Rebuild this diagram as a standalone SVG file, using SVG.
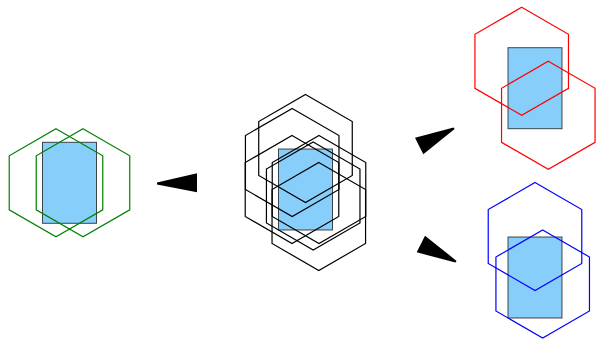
<svg xmlns="http://www.w3.org/2000/svg" xmlns:xlink="http://www.w3.org/1999/xlink" width="596" height="339" viewBox="0 0 596 339">
<style>
.box{fill:#87cefa;stroke:#000;stroke-opacity:0.7;stroke-width:1}
.hex{fill:none;stroke-width:1.2}
.g{stroke:#008000}
.k{stroke:#000}
.r{stroke:#ff0000}
.b{stroke:#0000ff}
.wedge{fill:#000;stroke:none}
</style>
<defs>
<path id="hx" d="M0,-54 L46.77,-27 L46.77,27 L0,54 L-46.77,27 L-46.77,-27 Z"/>
<rect id="bx" x="-27" y="-40.5" width="54" height="81"/>
</defs>
<rect width="596" height="339" fill="#fff"/>
<g id="connectors">
<polygon class="wedge" points="157,182.6 197,173.3 197,192.3 157,184.4"/>
<polygon class="wedge" points="415,137.7 423.3,154.3 454.6,129 453.6,127.4"/>
<polygon class="wedge" points="425,235.7 416.7,252.3 455.4,262.6 456.6,260.9"/>
</g>
<g id="node-green">
<use xlink:href="#bx" class="box" x="69.5" y="182.8"/>
<use xlink:href="#hx" class="hex g" x="56" y="182.8"/>
<use xlink:href="#hx" class="hex g" x="83" y="182.8"/>
</g>
<g id="node-center">
<use xlink:href="#bx" class="box" x="305.5" y="189.5"/>
<use xlink:href="#hx" class="hex k" x="292" y="189.5"/>
<use xlink:href="#hx" class="hex k" x="319" y="189.5"/>
<use xlink:href="#hx" class="hex k" x="292.2" y="162.5"/>
<use xlink:href="#hx" class="hex k" x="318.8" y="216.5"/>
<use xlink:href="#hx" class="hex k" x="305.5" y="148.5"/>
<use xlink:href="#hx" class="hex k" x="313.2" y="196"/>
</g>
<g id="node-red">
<use xlink:href="#bx" class="box" x="535" y="88.2"/>
<use xlink:href="#hx" class="hex r" x="521.7" y="61.3"/>
<use xlink:href="#hx" class="hex r" x="548.3" y="115.3"/>
</g>
<g id="node-blue">
<use xlink:href="#bx" class="box" x="535" y="277.5"/>
<use xlink:href="#hx" class="hex b" x="535" y="236.5"/>
<use xlink:href="#hx" class="hex b" x="542.7" y="284"/>
</g>
</svg>
